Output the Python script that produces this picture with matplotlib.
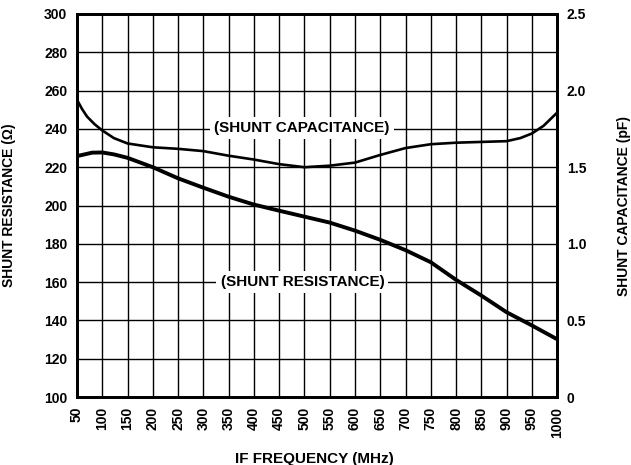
import matplotlib
matplotlib.use("Agg")
import matplotlib.pyplot as plt

plt.rcParams['font.family'] = ['Liberation Sans', 'DejaVu Sans']
plt.rcParams['font.weight'] = 'bold'

# shunt resistance curve, IF frequency (MHz) vs ohm
res_freq = [50, 80, 100, 123, 150, 200, 250, 300, 350, 400, 450, 500, 550,
            600, 650, 700, 750, 800, 850, 900, 950, 1000]
resistance = [225.8, 227.6, 227.7, 226.7, 224.9, 220.0, 214.2, 209.3, 204.6,
              200.5, 197.3, 194.2, 191.1, 186.9, 182.1, 176.7, 170.4, 161.2,
              153.0, 144.3, 137.4, 130.2]

# shunt capacitance curve, IF frequency (MHz) vs pF
cap_freq = [50, 60, 70, 85, 100, 123, 150, 200, 250, 300, 350, 400, 450, 500,
            550, 600, 650, 700, 750, 800, 850, 900, 927, 950, 973, 998]
capacitance = [1.94, 1.88, 1.83, 1.78, 1.74, 1.69, 1.655, 1.63, 1.62, 1.605,
               1.575, 1.55, 1.52, 1.50, 1.51, 1.53, 1.58, 1.625, 1.65, 1.66,
               1.665, 1.67, 1.69, 1.72, 1.77, 1.85]

xticks = list(range(50, 1001, 50))
left_ticks = list(range(100, 301, 20))
right_ticks = [0, 0.5, 1.0, 1.5, 2.0, 2.5]
right_labels = ["0", "0.5", "1.0", "1.5", "2.0", "2.5"]

fig, ax = plt.subplots(figsize=(6.31, 4.65), dpi=100)
fig.subplots_adjust(left=0.122, right=0.883, top=0.970, bottom=0.146)

ax.set_xlim(50, 1000)
ax.set_ylim(100, 300)
ax.set_xticks(xticks)
ax.set_xticklabels([str(t) for t in xticks], rotation=90, fontsize=10, fontweight='bold')
ax.set_yticks(left_ticks)
ax.set_yticklabels([str(t) for t in left_ticks], fontsize=10, fontweight='bold')
ax.tick_params(axis='y', length=0, pad=7)
ax.tick_params(axis='x', length=0, pad=7)
ax.grid(True, color='black', linewidth=1.0)
for s in ax.spines.values():
    s.set_linewidth(2.0)

ax2 = ax.twinx()
ax2.set_ylim(0, 2.5)
ax2.set_yticks(right_ticks)
ax2.set_yticklabels(right_labels, fontsize=10, fontweight='bold')
ax2.tick_params(length=0, pad=7)
for s in ax2.spines.values():
    s.set_linewidth(2.0)

ax.plot(res_freq, resistance, color='black', linewidth=2.8, zorder=3,
        solid_joinstyle='round')
ax2.plot(cap_freq, capacitance, color='black', linewidth=1.9, zorder=3,
         solid_joinstyle='round')

box = dict(facecolor='white', edgecolor='none', pad=3)
ax.text(495, 240.5, "(SHUNT CAPACITANCE)", ha='center', va='center', fontsize=11,
        fontweight='bold', bbox=box, zorder=4)
ax.text(496, 160, "(SHUNT RESISTANCE)", ha='center', va='center', fontsize=11,
        fontweight='bold', bbox=box, zorder=4)

ax.set_xlabel("IF FREQUENCY (MHz)", fontsize=11, fontweight='bold')
ax.xaxis.set_label_coords(0.495, -0.144)
ax.set_ylabel("SHUNT RESISTANCE (Ω)", fontsize=10, fontweight='bold')
ax.yaxis.set_label_coords(-0.127, 0.5)
ax2.set_ylabel("SHUNT CAPACITANCE (pF)", fontsize=10, fontweight='bold')
ax2.yaxis.set_label_coords(1.124, 0.5)

fig.savefig("out.png", dpi=100)
